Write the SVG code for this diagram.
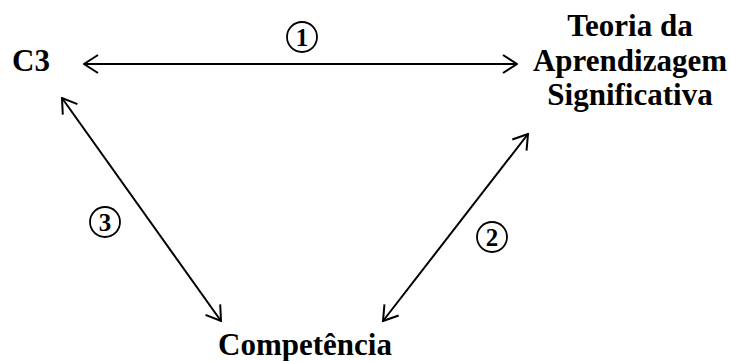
<svg xmlns="http://www.w3.org/2000/svg" width="730" height="361" viewBox="0 0 730 361">
<style>
.lbl{font-weight:bold;font-size:31px;fill:#000}
.num{font-weight:bold;font-size:25px;fill:#000;text-anchor:middle}
.edge{stroke:#000;stroke-width:2;fill:none;marker-start:url(#ah);marker-end:url(#ah)}
.ring{stroke:#000;stroke-width:1.8;fill:#fff}
</style>
<defs>
<marker id="ah" viewBox="0 0 16 20" refX="15" refY="10" markerWidth="16" markerHeight="20" markerUnits="userSpaceOnUse" orient="auto-start-reverse">
<path d="M1,1 L15,10 L1,19" fill="none" stroke="#000" stroke-width="2"/>
</marker>
</defs>
<g id="connectors">
<line class="edge" x1="84" y1="64" x2="517" y2="64"/>
<line class="edge" x1="528" y1="134" x2="383" y2="321"/>
<line class="edge" x1="62" y1="98" x2="221" y2="321"/>
</g>
<g id="label1"><circle class="ring" cx="302" cy="37" r="15"/><text class="num" font-family="Liberation Serif" x="302" y="46">1</text></g>
<g id="label2"><circle class="ring" cx="492" cy="237" r="15"/><text class="num" font-family="Liberation Serif" x="492" y="246">2</text></g>
<g id="label3"><circle class="ring" cx="105" cy="222" r="15"/><text class="num" font-family="Liberation Serif" x="105" y="231">3</text></g>
<g id="c3"><text class="lbl" font-family="Liberation Serif" x="12" y="71" font-size="30">C3</text></g>
<g id="teoria"><text class="lbl" font-family="Liberation Serif" x="630" y="36" text-anchor="middle">Teoria da</text><text class="lbl" font-family="Liberation Serif" x="630" y="71" text-anchor="middle">Aprendizagem</text><text class="lbl" font-family="Liberation Serif" x="630" y="105" text-anchor="middle">Significativa</text></g>
<g id="competencia"><text class="lbl" font-family="Liberation Serif" x="305" y="355" text-anchor="middle">Competência</text></g>
</svg>
